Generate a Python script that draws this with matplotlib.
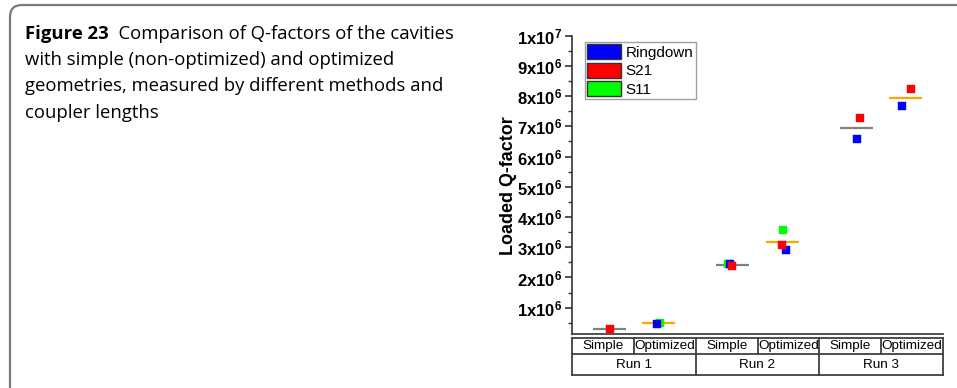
import numpy as np
import matplotlib
matplotlib.use("Agg")
import matplotlib.pyplot as plt
from matplotlib.patches import Patch, PathPatch
from matplotlib.path import Path
import matplotlib.transforms as mtransforms

plt.rcParams['font.family'] = ['Liberation Sans', 'DejaVu Sans']
plt.rcParams['mathtext.fontset'] = 'custom'
plt.rcParams['mathtext.rm'] = 'Liberation Sans'
plt.rcParams['mathtext.bf'] = 'Liberation Sans:bold'

# ---------------- data ----------------
runs = ["Run 1", "Run 2", "Run 3"]
geometries = ["Simple", "Optimized"]
series_names = ["Ringdown", "S21", "S11"]
# values in order: R1 Simple, R1 Opt, R2 Simple, R2 Opt, R3 Simple, R3 Opt
ringdown = [np.nan, 0.46e6, 2.44e6, 2.92e6, 6.57e6, 7.66e6]
s21 = [0.28e6, np.nan, 2.37e6, 3.07e6, 7.29e6, 8.23e6]
s11 = [np.nan, 0.51e6, 2.44e6, 3.58e6, np.nan, np.nan]
ytick_vals = [1e6, 2e6, 3e6, 4e6, 5e6, 6e6, 7e6, 8e6, 9e6, 1e7]
ytick_labels = [r'$\mathbf{1x10^{6}}$', r'$\mathbf{2x10^{6}}$', r'$\mathbf{3x10^{6}}$',
                r'$\mathbf{4x10^{6}}$', r'$\mathbf{5x10^{6}}$', r'$\mathbf{6x10^{6}}$',
                r'$\mathbf{7x10^{6}}$', r'$\mathbf{8x10^{6}}$', r'$\mathbf{9x10^{6}}$',
                r'$\mathbf{1x10^{7}}$']
y_label = "Loaded Q-factor"
caption_bold = "Figure 23"
caption_rest = ("  Comparison of Q-factors of the cavities",
                "with simple (non-optimized) and optimized",
                "geometries, measured by different methods and",
                "coupler lengths")

# ---------------- layout / style ----------------
colors = {"Ringdown": "#0000ff", "S21": "#ff0000", "S11": "#00ff00"}
jitter = {"Ringdown": [0, -0.03, -0.05, 0.06, 0.01, -0.07],
          "S21": [0.01, 0, -0.01, -0.01, 0.05, 0.08],
          "S11": [0, 0.02, -0.08, 0.02, 0, 0]}
mean_colors = ["#808080", "#ffa500"]

W, H = 957, 388
fig = plt.figure(figsize=(W / 100, H / 100), dpi=100)

# overlay in pixel coords for the panel border
ov = fig.add_axes([0, 0, 1, 1], zorder=-1)
ov.set_xlim(0, W)
ov.set_ylim(H, 0)
ov.axis('off')
r = 12
verts = [(10, H + 20), (10, 5 + r), (10, 5), (10 + r, 5), (W + 20, 5)]
codes = [Path.MOVETO, Path.LINETO, Path.CURVE3, Path.CURVE3, Path.LINETO]
ov.add_patch(PathPatch(Path(verts, codes), fill=False, edgecolor="#7a7a7a", lw=1.6))

# caption
cap_font = 'Open Sans'
line_y = [39, 65.2, 91.4, 117.7]
fs_cap = 13.3
t = fig.text(25 / W, 1 - line_y[0] / H, caption_bold, fontsize=fs_cap, fontweight='bold',
             family=cap_font, va='baseline', ha='left')
fig.canvas.draw()
bb = t.get_window_extent()
fig.text(bb.x1 / W, 1 - line_y[0] / H, caption_rest[0], fontsize=fs_cap, family=cap_font,
         va='baseline', ha='left')
for i in range(1, 4):
    fig.text(25 / W, 1 - line_y[i] / H, caption_rest[i], fontsize=fs_cap, family=cap_font,
             va='baseline', ha='left')

# axes
ax_left, ax_right, ax_top, ax_bot = 572, 943, 35.7, 334.3
ax = fig.add_axes([ax_left / W, (H - ax_bot) / H, (ax_right - ax_left) / W, (ax_bot - ax_top) / H])
ax.set_xlim(0, 6)
ax.set_ylim(0.12e6, 1e7)

n_cat = len(runs) * len(geometries)
run_centers = np.arange(len(runs)) * 2 + 1.0
positions = []
for rc in run_centers:
    positions += [rc - 0.4, rc + 0.4]
positions = np.array(positions)

data = {"Ringdown": np.array(ringdown), "S21": np.array(s21), "S11": np.array(s11)}

# mean lines
allv = np.vstack([data[s] for s in series_names])
means = np.nanmean(allv, axis=0)
for i in range(n_cat):
    ax.plot([positions[i] - 0.267, positions[i] + 0.267], [means[i], means[i]],
            color=mean_colors[i % 2], lw=1.6, zorder=2, solid_capstyle='butt')

for s in ["S11", "Ringdown", "S21"]:
    ax.scatter(positions + np.array(jitter[s]), data[s], marker='s', s=32,
               color=colors[s], edgecolors=colors[s], linewidths=0.3, zorder=3)

ax.spines['top'].set_visible(False)
ax.spines['right'].set_visible(False)
ax.spines['left'].set_color('#333333')
ax.spines['bottom'].set_color('#333333')
ax.spines['left'].set_linewidth(1.2)
ax.spines['bottom'].set_linewidth(1.2)
ax.set_xticks([])
ax.set_yticks(ytick_vals)
ax.set_yticklabels(ytick_labels, fontsize=12)
ax.set_yticks(np.arange(0.5e6, 1e7, 1e6), minor=True)
ax.tick_params(axis='y', which='major', direction='out', length=5, width=1.2, color='#333333', pad=2)
ax.tick_params(axis='y', which='minor', direction='out', length=3, width=1.0, color='#333333')
ax.set_ylabel(y_label, fontsize=12.9, fontweight='bold')
h = ax_bot - ax_top
ax.yaxis.set_label_coords((517 - ax_left) / (ax_right - ax_left),
                          0.5 - (186 - (ax_top + ax_bot) / 2) / h)

# table below axis
trans = mtransforms.blended_transform_factory(ax.transData, ax.transAxes)
def yax(py):
    return -(py - ax_bot) / h
y_top, y_mid, y_bot = yax(337.7), yax(354.3), yax(375)
lc = '#404040'
lw = 1.3
for yy in [y_top, y_mid, y_bot]:
    ax.plot([0, 6], [yy, yy], color=lc, lw=lw, transform=trans, clip_on=False)
for xx in [0, 2, 4, 6]:
    ax.plot([xx, xx], [y_top, y_bot], color=lc, lw=lw, transform=trans, clip_on=False)
for xx in [1, 3, 5]:
    ax.plot([xx, xx], [y_top, y_mid], color=lc, lw=lw, transform=trans, clip_on=False)
for i in range(n_cat):
    ax.text(i + 0.5, (y_top + y_mid) / 2, geometries[i % 2], transform=trans,
            ha='center', va='center', fontsize=9.7)
for j, rn in enumerate(runs):
    ax.text(run_centers[j], (y_mid + y_bot) / 2, rn, transform=trans,
            ha='center', va='center', fontsize=9.7)

# legend
handles = [Patch(facecolor=colors[s], edgecolor='#333333', linewidth=1.0, label=s) for s in series_names]
leg = ax.legend(handles=handles, loc='upper left',
                bbox_to_anchor=((585 - ax_left) / (ax_right - ax_left), 1 - (42 - ax_top) / h),
                borderaxespad=0, fontsize=11, handlelength=2.2, handleheight=1.1,
                labelspacing=0.2, handletextpad=0.3, borderpad=0.15, fancybox=False,
                frameon=True, edgecolor='#888888')
leg.get_frame().set_linewidth(1.0)

fig.savefig("out.png", dpi=100)
